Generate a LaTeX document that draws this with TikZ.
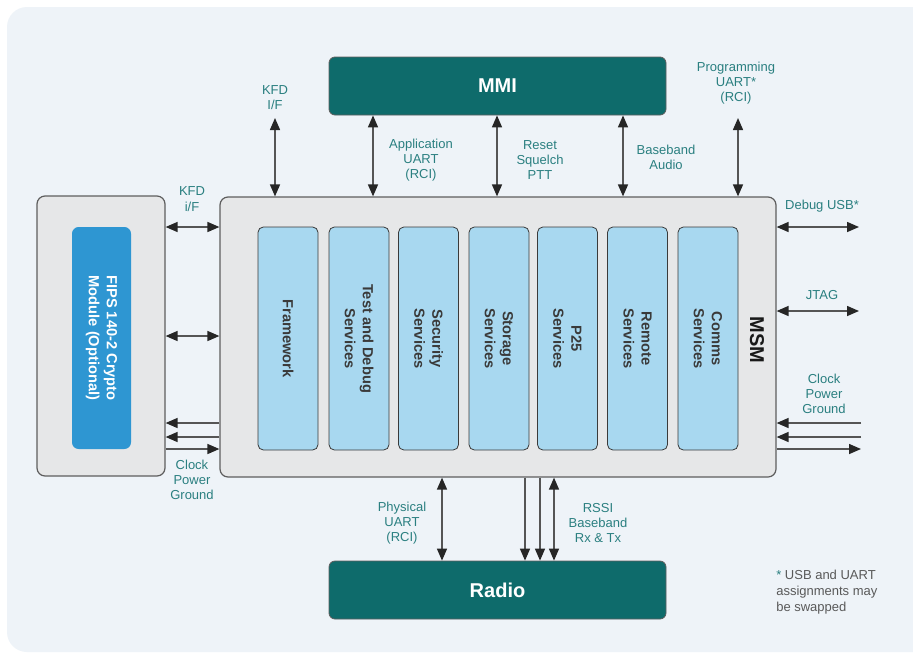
\documentclass[tikz,border=0pt]{standalone}
\usepackage{fontspec}
\setmainfont{Liberation Sans}
\usetikzlibrary{arrows.meta,fit}
\definecolor{panel}{HTML}{EEF3F8}
\definecolor{tealbox}{HTML}{0E6B6B}
\definecolor{labteal}{HTML}{2A7F80}
\definecolor{graybox}{HTML}{E6E7E8}
\definecolor{graystroke}{HTML}{5E5E5E}
\definecolor{svcblue}{HTML}{A8D8F0}
\definecolor{fipsblue}{HTML}{2E96D2}
\definecolor{linegray}{HTML}{555555}
\definecolor{svctext}{HTML}{3A3A3A}
\begin{document}
\begin{tikzpicture}[x=0.75pt,y=-0.75pt,
  tealnode/.style={fill=tealbox,draw=graystroke,line width=0.6pt,rounded corners=4.5pt,inner sep=0pt,
    text=white,font=\fontsize{15}{18}\selectfont\bfseries},
  graynode/.style={fill=graybox,draw=graystroke,line width=0.9pt,rounded corners=6pt,inner sep=0pt},
  svcbox/.style={fill=svcblue,draw=svctext,line width=0.6pt,rounded corners=4pt,rotate=-90,
    minimum width=167.25pt,minimum height=45pt,inner sep=0pt,align=center,text=svctext,
    font=\fontsize{11}{13.5}\selectfont\bfseries},
  lab/.style={text=labteal,align=center,font=\fontsize{9.75}{11.4}\selectfont,inner sep=0pt},
  conn/.style={draw=linegray,line width=1.1pt},
  tip/.style={conn,-{Triangle[length=9pt,width=7.5pt,color=black!85]}},
  dbl/.style={conn,{Triangle[length=9pt,width=7.5pt,color=black!85]}-{Triangle[length=9pt,width=7.5pt,color=black!85]}}
]
\useasboundingbox (0,0) rectangle (913,654);
\fill[white] (0,0) rectangle (913,654);
\fill[panel,rounded corners=15pt] (7,7) rectangle (940,652);

% boxes
\node[tealnode,fit={(329,57)(666,115)}] (mmi) {};
\node[text=white,font=\fontsize{15}{18}\selectfont\bfseries] at (mmi.center) {MMI};
\node[tealnode,fit={(329,561)(666,619)}] (radio) {};
\node[text=white,font=\fontsize{15}{18}\selectfont\bfseries] at (radio.center) {Radio};
\node[graynode,fit={(220,197)(776,477)}] (msm) {};
\node[rotate=-90,font=\fontsize{15}{18}\selectfont\bfseries,text=black!90] at (757,340) {MSM};
\node[graynode,fit={(37,196)(165,476)}] (fipsout) {};
\node[fill=fipsblue,rounded corners=5pt,rotate=-90,minimum width=166.5pt,minimum height=44.25pt,
  inner sep=0pt,align=center,text=white,font=\fontsize{11}{13.5}\selectfont\bfseries] (fips) at (101.5,338)
  {FIPS 140-2 Crypto\\Module (Optional)};

% services
\node[svcbox] (s1) at (288,338.5) {Framework};
\node[svcbox] (s2) at (359,338.5) {Test and Debug\\Services};
\node[svcbox] (s3) at (428.5,338.5) {Security\\Services};
\node[svcbox] (s4) at (499,338.5) {Storage\\Services};
\node[svcbox] (s5) at (567.5,338.5) {P25\\Services};
\node[svcbox] (s6) at (637.5,338.5) {Remote\\Services};
\node[svcbox] (s7) at (708,338.5) {Comms\\Services};

% coordinates
\coordinate (kfdtop) at (275,118);
\coordinate (progtop) at (738,118);
\coordinate (xa) at (373,0);
\coordinate (xr) at (497,0);
\coordinate (xb) at (623,0);
\coordinate (xp) at (442,0);
\coordinate (xr1) at (525,0);
\coordinate (xr2) at (540,0);
\coordinate (xr3) at (554,0);
\coordinate (y1) at (0,227);
\coordinate (y2) at (0,336);
\coordinate (y3) at (0,423);
\coordinate (y4) at (0,437);
\coordinate (y5) at (0,449);
\coordinate (yj) at (0,311);
\coordinate (rend) at (859,0);
\coordinate (rend2) at (861,0);

% top connectors
\draw[dbl] (kfdtop) -- (kfdtop |- msm.north);
\draw[dbl] (mmi.south -| xa) -- (msm.north -| xa);
\draw[dbl] (mmi.south -| xr) -- (msm.north -| xr);
\draw[dbl] (mmi.south -| xb) -- (msm.north -| xb);
\draw[dbl] (progtop) -- (progtop |- msm.north);

% left connectors
\draw[dbl] (fipsout.east |- y1) -- (msm.west |- y1);
\draw[dbl] (fipsout.east |- y2) -- (msm.west |- y2);
\draw[tip] (msm.west |- y3) -- (fipsout.east |- y3);
\draw[tip] (msm.west |- y4) -- (fipsout.east |- y4);
\draw[tip] (fipsout.east |- y5) -- (msm.west |- y5);

% right connectors
\draw[dbl] (msm.east |- y1) -- (rend |- y1);
\draw[dbl] (msm.east |- yj) -- (rend |- yj);
\draw[tip] (rend2 |- y3) -- (msm.east |- y3);
\draw[tip] (rend2 |- y4) -- (msm.east |- y4);
\draw[tip] (msm.east |- y5) -- (rend2 |- y5);

% bottom connectors
\draw[dbl] (msm.south -| xp) -- (radio.north -| xp);
\draw[tip] (msm.south -| xr1) -- (radio.north -| xr1);
\draw[tip] (msm.south -| xr2) -- (radio.north -| xr2);
\draw[dbl] (msm.south -| xr3) -- (radio.north -| xr3);

% labels
\node[lab] (l1) at (275,97.5) {KFD\\I/F};
\node[lab] (l2) at (421,160) {Application\\UART\\(RCI)};
\node[lab] (l3) at (540,160) {Reset\\Squelch\\PTT};
\node[lab] (l4) at (666,157.5) {Baseband\\Audio};
\node[lab] (l5) at (736,83) {Programming\\UART*\\(RCI)};
\node[lab] (l6) at (192,199) {KFD\\i/F};
\node[lab] (l7) at (192,480) {Clock\\Power\\Ground};
\node[lab] (l8) at (822,206) {Debug USB*};
\node[lab] (l9) at (822,295) {JTAG};
\node[lab] (l10) at (824,394) {Clock\\Power\\Ground};
\node[lab] (l11) at (402,523) {Physical\\UART\\(RCI)};
\node[lab] (l12) at (598,523) {RSSI\\Baseband\\Rx \& Tx};
\node[anchor=west,align=left,text=black!65,inner sep=0pt,font=\fontsize{9.75}{12}\selectfont] (note) at (776,592)
  {\textcolor{labteal}{*} USB and UART\\assignments may\\be swapped};
\end{tikzpicture}
\end{document}
